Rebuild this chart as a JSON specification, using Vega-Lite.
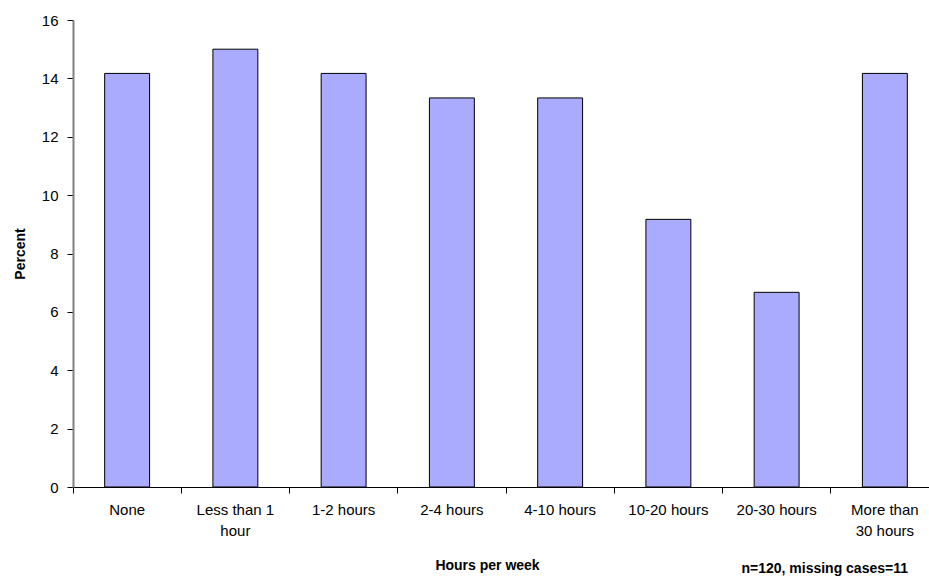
{
  "$schema": "https://vega.github.io/schema/vega-lite/v6.json",
  "width": 856,
  "height": 467,
  "autosize": {"type": "none"},
  "padding": {"left": 73, "top": 20, "right": 0, "bottom": 96},
  "background": "white",
  "config": {
    "view": {"stroke": null},
    "font": "Liberation Sans",
    "axis": {"labelFont": "Liberation Sans", "titleFont": "Liberation Sans", "labelColor": "#000", "titleColor": "#000", "grid": false}
  },
  "title": {
    "text": "n=120, missing cases=11",
    "orient": "bottom",
    "anchor": "end",
    "frame": "group",
    "fontSize": 14,
    "fontWeight": "bold",
    "font": "Liberation Sans",
    "color": "#000",
    "offset": -10,
    "dx": -21
  },
  "data": {
    "values": [
      {"hours": "None", "percent": 14.17},
      {"hours": "Less than 1 hour", "percent": 15.0},
      {"hours": "1-2 hours", "percent": 14.17},
      {"hours": "2-4 hours", "percent": 13.33},
      {"hours": "4-10 hours", "percent": 13.33},
      {"hours": "10-20 hours", "percent": 9.17},
      {"hours": "20-30 hours", "percent": 6.67},
      {"hours": "More than 30 hours", "percent": 14.17}
    ]
  },
  "mark": {"type": "bar", "fill": "#AAAAFF", "stroke": "#000", "strokeWidth": 1, "width": {"band": 0.415}},
  "encoding": {
    "x": {
      "field": "hours",
      "type": "nominal",
      "sort": null,
      "scale": {"paddingInner": 0, "paddingOuter": 0, "range": [0, 866]},
      "axis": {
        "title": "Hours per week",
        "titleFontSize": 14,
        "titleFontWeight": "bold",
        "titleX": 414,
        "titlePadding": 20,
        "labelAngle": 0,
        "labelFontSize": 15,
        "labelPadding": 9,
        "labelLineHeight": 21,
        "labelExpr": "datum.value == 'Less than 1 hour' ? ['Less than 1', 'hour'] : datum.value == 'More than 30 hours' ? ['More than', '30 hours'] : datum.value",
        "bandPosition": 0,
        "tickSize": 6,
        "tickColor": "#000",
        "domainColor": "#000",
        "labelBaseline": "top"
      }
    },
    "y": {
      "field": "percent",
      "type": "quantitative",
      "scale": {"domain": [0, 16]},
      "axis": {
        "title": "Percent",
        "titleFontSize": 14,
        "titleFontWeight": "bold",
        "titlePadding": 14,
        "values": [0, 2, 4, 6, 8, 10, 12, 14, 16],
        "labelFontSize": 15,
        "labelPadding": 9,
        "tickSize": 6,
        "tickColor": "#000",
        "domainColor": "#808080",
        "domainWidth": 2
      }
    }
  }
}
